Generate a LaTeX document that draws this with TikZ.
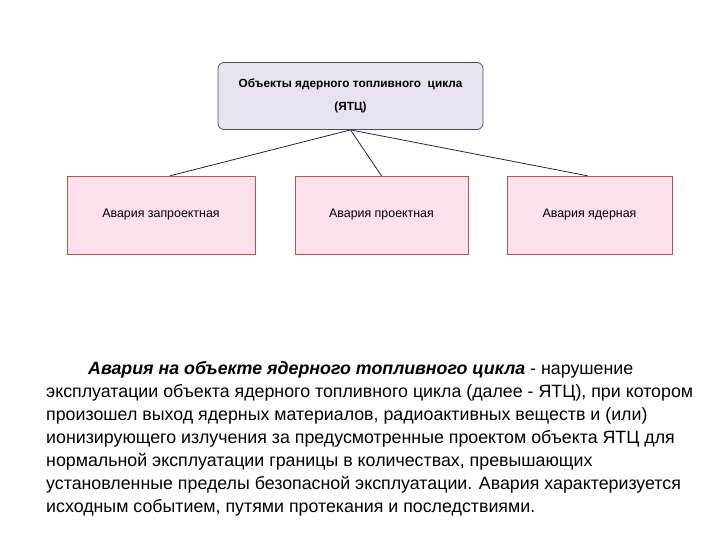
\documentclass[tikz,border=0pt]{standalone}
\usepackage{fontspec}
\setmainfont{Liberation Sans}
\definecolor{topfill}{RGB}{230, 227, 238}
\definecolor{topdraw}{RGB}{80, 80, 86}
\definecolor{pinkfill}{RGB}{252, 224, 236}
\definecolor{pinkdraw}{RGB}{192, 80, 77}
\tikzset{
  headbox/.style={draw=topdraw, thick, rounded corners=6pt, fill=topfill, minimum width=265pt, minimum height=67pt, align=center, font=\fontsize{11.8}{23}\selectfont\bfseries},
  kindbox/.style={draw=pinkdraw, fill=pinkfill, minimum height=78pt, font=\fontsize{12.4}{14}\selectfont},
  link/.style={draw=black!85, thick}
}
\begin{document}
\begin{tikzpicture}[x=1pt, y=-1pt]
\useasboundingbox (0,0) rectangle (720,540);
\node[headbox] (ytc) at (350.5,96) {Объекты ядерного топливного \ цикла\\(ЯТЦ)};

\node[kindbox, minimum width=188pt] (beyond) at (161,215) {Авария запроектная};
\node[kindbox, minimum width=173pt] (design) at (381.5,215) {Авария проектная};
\node[kindbox, minimum width=165pt] (nuclear) at (589.5,215) {Авария ядерная};

\draw[link] (ytc.south) -- ([xshift=9pt]beyond.north);
\draw[link] (ytc.south) -- (design.north);
\draw[link] (ytc.south) -- ([xshift=-2pt]nuclear.north);

\node[anchor=north west, align=left, inner sep=0pt, font=\fontsize{17.8}{23}\selectfont] (def) at (46,361) {%
\hspace*{42pt}\textbf{\textit{Авария на объекте ядерного топливного цикла}} - нарушение\\
эксплуатации объекта ядерного топливного цикла (далее - ЯТЦ), при котором\\
произошел выход ядерных материалов, радиоактивных веществ и (или)\\
ионизирующего излучения за предусмотренные проектом объекта ЯТЦ для\\
нормальной эксплуатации границы в количествах, превышающих\\
установленные пределы безопасной эксплуатации. Авария характеризуется\\
исходным событием, путями протекания и последствиями.};
\end{tikzpicture}
\end{document}
